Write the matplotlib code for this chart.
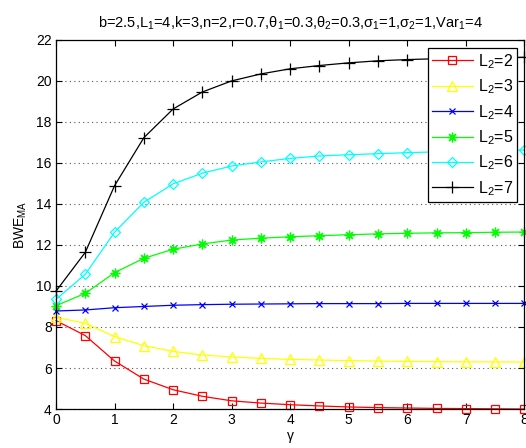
import matplotlib
matplotlib.use("Agg")
import matplotlib.pyplot as plt
import numpy as np

plt.rcParams['font.family'] = ['Liberation Sans', 'DejaVu Sans']
plt.rcParams['mathtext.fontset'] = 'custom'
plt.rcParams['mathtext.rm'] = 'Liberation Sans'
plt.rcParams['mathtext.it'] = 'Liberation Sans:italic'
plt.rcParams['font.size'] = 10

# gamma values
gamma = [0, 0.5, 1, 1.5, 2, 2.5, 3, 3.5, 4, 4.5, 5, 5.5, 6, 6.5, 7, 7.5, 8]

# BWE_MA for each L2
bwe_l2_2 = [8.31, 7.58, 6.34, 5.46, 4.94, 4.62, 4.40, 4.29, 4.21, 4.15, 4.10,
            4.07, 4.05, 4.03, 4.02, 4.01, 4.00]
bwe_l2_3 = [8.47, 8.18, 7.53, 7.09, 6.81, 6.63, 6.54, 6.47, 6.42, 6.39, 6.36,
            6.34, 6.32, 6.31, 6.30, 6.30, 6.29]
bwe_l2_4 = [8.78, 8.83, 8.94, 9.00, 9.06, 9.09, 9.11, 9.12, 9.13, 9.14, 9.14,
            9.14, 9.15, 9.15, 9.15, 9.15, 9.15]
bwe_l2_5 = [9.04, 9.64, 10.65, 11.35, 11.79, 12.05, 12.24, 12.33, 12.40, 12.45,
            12.50, 12.54, 12.57, 12.59, 12.60, 12.62, 12.63]
bwe_l2_6 = [9.35, 10.57, 12.62, 14.08, 14.98, 15.50, 15.85, 16.05, 16.22, 16.34,
            16.40, 16.45, 16.50, 16.54, 16.57, 16.60, 16.63]
bwe_l2_7 = [9.75, 11.64, 14.89, 17.23, 18.63, 19.46, 20.00, 20.34, 20.59, 20.75,
            20.88, 20.98, 21.04, 21.08, 21.11, 21.13, 21.15]

series = [
    ('L$_2$=2', bwe_l2_2, 'red', 's', 6),
    ('L$_2$=3', bwe_l2_3, 'yellow', '^', 7),
    ('L$_2$=4', bwe_l2_4, 'blue', 'x', 5),
    ('L$_2$=5', bwe_l2_5, 'lime', (8, 2, 0), 7),
    ('L$_2$=6', bwe_l2_6, 'cyan', 'D', 5),
    ('L$_2$=7', bwe_l2_7, 'black', '+', 8),
]

fig = plt.figure(figsize=(5.26, 4.48), dpi=100)
ax = fig.add_axes([0.1065, 0.087, 0.8905, 0.824])

for label, vals, color, marker, ms in series:
    ax.plot(gamma, vals, color=color, marker=marker, markersize=ms,
            markerfacecolor='none', markeredgecolor=color, linewidth=0.9,
            markeredgewidth=0.9, label=label, clip_on=False)

ax.set_xlim(0, 8)
ax.set_ylim(4, 22)
ax.set_xticks(range(0, 9))
ax.set_yticks(range(4, 23, 2))
ax.yaxis.grid(True, linestyle=(0, (1, 3)), color='#555555', linewidth=0.8)
ax.tick_params(direction='in', top=True, right=True, length=4, width=0.8,
               labelsize=10, pad=3)
for sp in ax.spines.values():
    sp.set_linewidth(0.9)

ax.set_xlabel('γ', fontsize=10, labelpad=1)
ax.set_ylabel('BWE$_{\\rm MA}$', fontsize=10, labelpad=5)
ax.set_title('b=2.5,L$_1$=4,k=3,n=2,r=0.7,θ$_1$=0.3,θ$_2$=0.3,σ$_1$=1,σ$_2$=1,Var$_1$=4',
             fontsize=10.5, pad=9)

leg = ax.legend(loc='upper right', bbox_to_anchor=(0.985, 0.978), fancybox=False,
                edgecolor='black', framealpha=1, fontsize=11.5, handlelength=2.6,
                borderpad=0.25, labelspacing=0.42, handletextpad=0.3,
                borderaxespad=0.0)
leg.get_frame().set_linewidth(0.9)

fig.savefig('out.png', dpi=100)
